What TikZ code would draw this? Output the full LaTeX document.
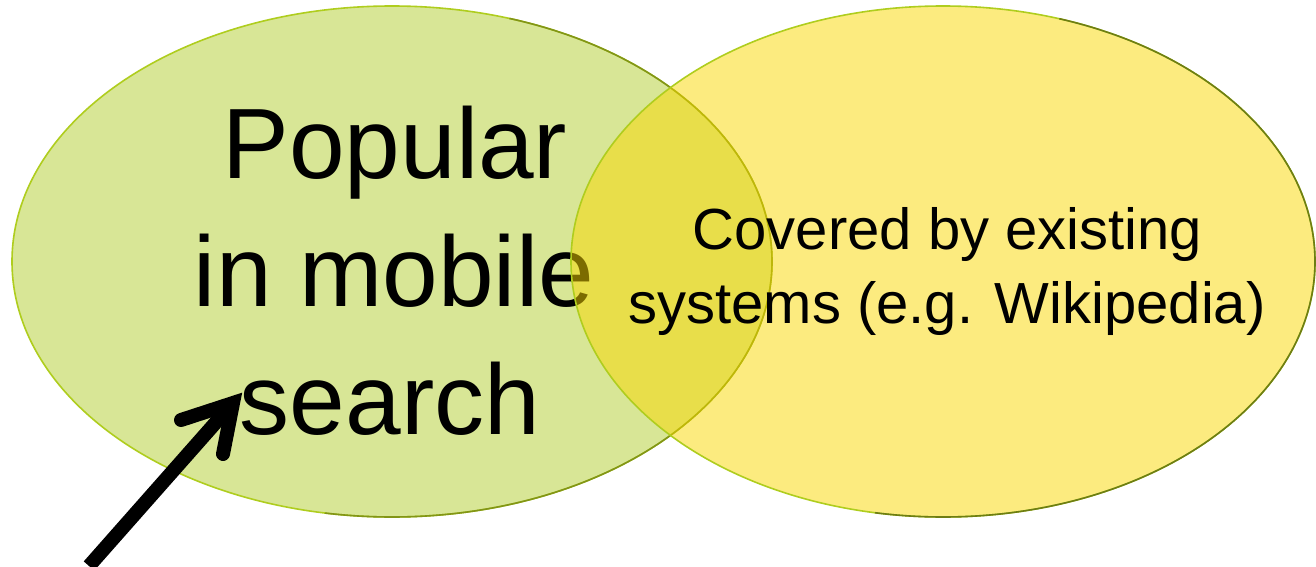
\documentclass[tikz,border=0pt]{standalone}
\usepackage{fontspec}
\setmainfont{Liberation Sans}
\definecolor{leftfill}{RGB}{216,230,150}
\definecolor{rightfill}{RGB}{249,215,0}
\definecolor{lightedge}{RGB}{175,205,30}
\definecolor{darkedge}{RGB}{110,125,20}
\tikzset{
  bigtext/.style={anchor=base, inner sep=0pt, font=\fontsize{100}{128}\selectfont},
  smalltext/.style={anchor=base, inner sep=0pt, font=\fontsize{58}{74}\selectfont},
  arrowline/.style={line width=14pt, black},
}
\begin{document}
\begin{tikzpicture}[x=1pt,y=-1pt]
\useasboundingbox (0,0) rectangle (1316,567);
% left ellipse
\fill[leftfill] (392,261.5) ellipse [x radius=380, y radius=255.5];
\draw[lightedge, line width=1.6pt] (392,261.5) ellipse [x radius=380, y radius=255.5];
\begin{scope}
  \clip (520,-10) -- (900,-10) -- (900,580) -- (300,580) -- cycle;
  \draw[darkedge!70!lightedge, line width=1.6pt] (392,261.5) ellipse [x radius=380, y radius=255.5];
\end{scope}
% left text
\node[bigtext] (popA) at (395,178) {Popular};
\node[bigtext] (popB) at (394,306) {in mobile};
\node[bigtext] (popC) at (390,434) {search};
% right ellipse (semi-transparent)
\fill[rightfill, fill opacity=0.5] (943,261.5) ellipse [x radius=372, y radius=255.5];
\draw[lightedge, line width=1.6pt] (943,261.5) ellipse [x radius=372, y radius=255.5];
\begin{scope}
  \clip (1070,-10) -- (1330,-10) -- (1330,580) -- (850,580) -- cycle;
  \draw[darkedge, line width=1.6pt] (943,261.5) ellipse [x radius=372, y radius=255.5];
\end{scope}
% right text
\node[smalltext] (covA) at (947.5,249.5) {Covered by existing};
\node[smalltext] (covB) at (947,323) {systems (e.g. Wikipedia)};
% arrow
\coordinate (arrstart) at (89,566);
\coordinate (arrjoin) at (233,403);
\coordinate (barbA) at (181,420);
\coordinate (barbB) at (223,454);
\draw[arrowline, line cap=butt] (arrstart) -- (arrjoin);
\draw[arrowline, line cap=round, line join=miter, miter limit=10] (barbA) -- (arrjoin) -- (barbB);
\end{tikzpicture}
\end{document}
